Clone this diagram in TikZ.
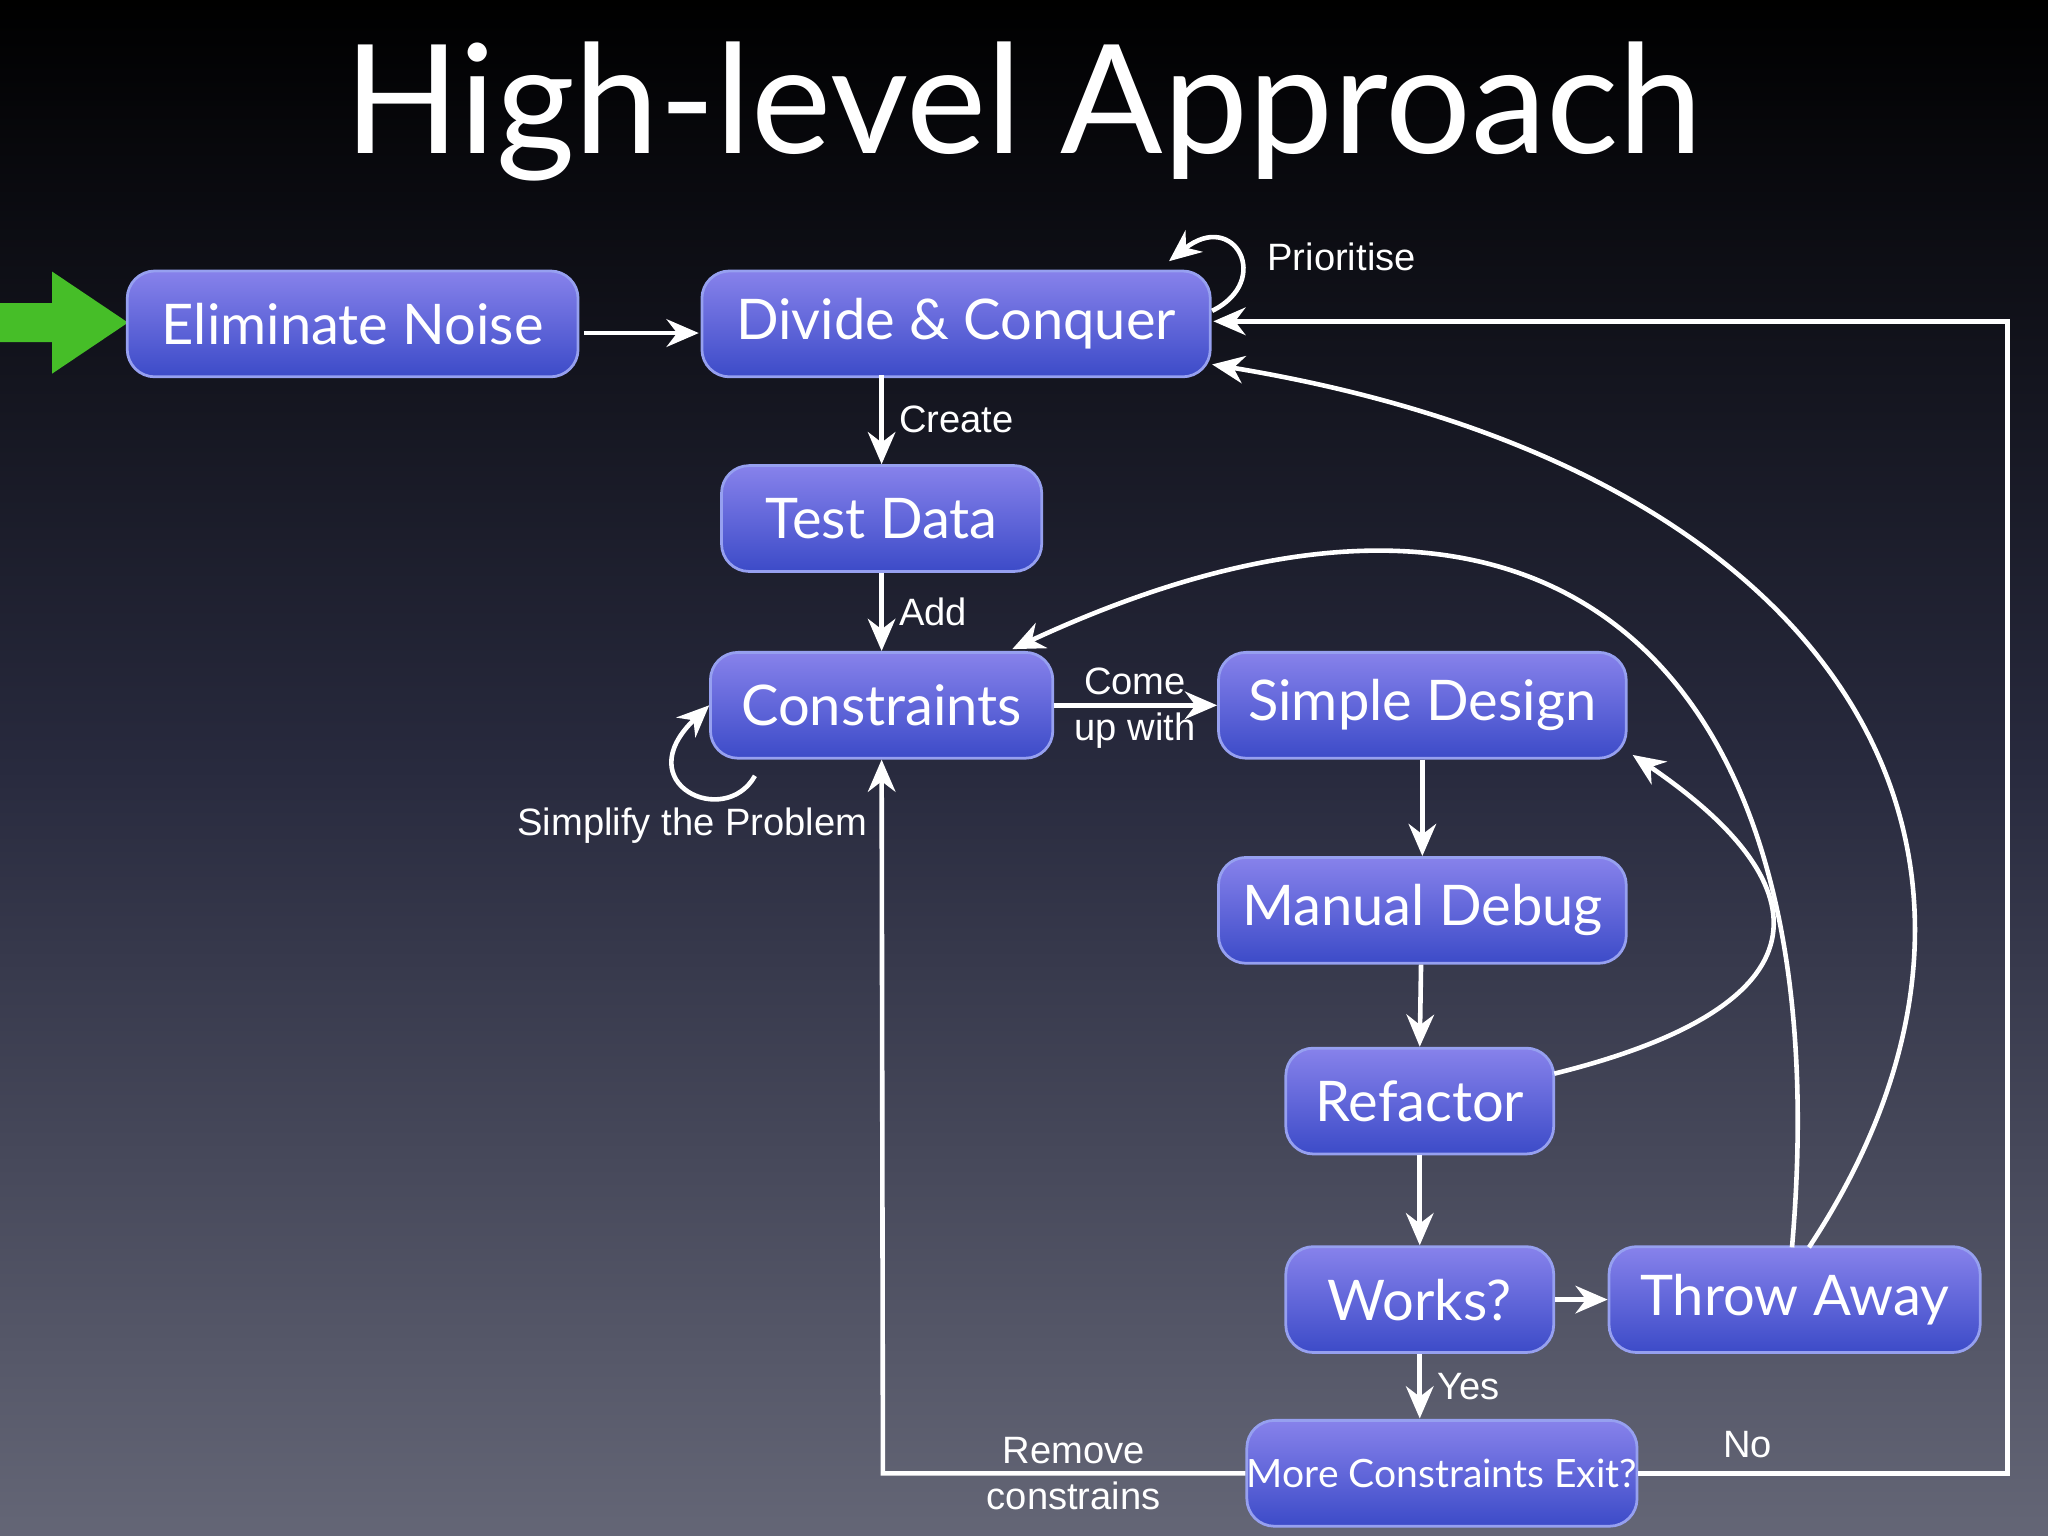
\documentclass[tikz,border=0pt]{standalone}
\usepackage{fontspec}
\setmainfont{Lato}
\newfontfamily\lbl{Liberation Sans}
\usetikzlibrary{arrows.meta}
\definecolor{btop}{RGB}{135,130,235}
\definecolor{bbot}{RGB}{60,75,200}
\definecolor{bedge}{RGB}{150,160,240}
\definecolor{gbot}{RGB}{100,102,118}
\definecolor{gmid}{RGB}{40,42,62}
\definecolor{grn}{RGB}{70,190,40}
\begin{document}
\begin{tikzpicture}[x=0.01cm,y=-0.01cm,
 box/.style={rounded corners=6pt,draw=bedge,line width=0.6pt,top color=btop,bottom color=bbot,text=white,minimum height=0.81cm,inner sep=0pt,font=\fontsize{12.2}{14}\selectfont},
 con/.style={draw=white,line width=1pt,-{Stealth[length=7pt,width=6pt]}},
 lab/.style={text=white,font=\lbl\fontsize{8.3}{10}\selectfont,align=center}]
\shade[top color=black,bottom color=gbot,middle color=gmid] (0,0) rectangle (1568,1176);
\useasboundingbox (0,0) rectangle (1568,1176);
\node[text=white,font=\fontsize{33}{38}\selectfont] (title) at (784,85) {High-level Approach};
\fill[grn] (0,232) -- (40,232) -- (40,208) -- (98,247) -- (40,286) -- (40,262) -- (0,262) -- cycle;
\node[box,minimum width=3.45cm] (en) at (270,248) {Eliminate Noise};
\node[box,minimum width=3.89cm] (dc) at (732,248) {Divide \& Conquer};
\node[box,minimum width=2.45cm] (td) at (675,397) {Test Data};
\node[box,minimum width=2.62cm] (cs) at (675,540) {Constraints};
\node[box,minimum width=3.12cm] (sd) at (1089,540) {Simple Design};
\node[box,minimum width=3.12cm] (md) at (1089,697) {Manual Debug};
\node[box,minimum width=2.05cm] (rf) at (1087,843) {Refactor};
\node[box,minimum width=2.05cm] (wk) at (1087,995) {Works?};
\node[box,minimum width=2.84cm] (ta) at (1374,995) {Throw Away};
\node[box,minimum width=2.85cm,font=\fontsize{8.5}{10}\selectfont] (mc) at (1104,1128) {More Constraints Exit?};
\coordinate (a1) at (447,255);
\coordinate (a2) at (535,255);
\draw[con] (a1) -- (a2);
\draw[con] (675,287) -- node[lab,right] {Create} (td.north);
\draw[con] (td.south) -- node[lab,right] {Add} (cs.north);
\draw[con] (cs.east) -- (sd.west);
\node[lab] at (869,542) {Come\\up with};
\draw[con] (sd.south) -- (md.north);
\draw[con] (md.south) ++(-1,0) -- (rf.north);
\draw[con] (rf.south) -- (wk.north);
\draw[con] (wk.south) -- node[lab,right] {Yes} (1087,1086);
\draw[con] (wk.east) -- (ta.west);
\draw[con] (mc.west) -- (676,1128) -- (cs.south);
\node[lab] at (822,1128) {Remove\\constrains};
\draw[con] (mc.east) -- (1537,1128) -- (1537,246) -- (929,246);
\node[lab] at (1338,1106) {No};
\draw[con] (1190,822) .. controls (1400,770) and (1400,680) .. (1250,578);
\draw[con] (1372,955) .. controls (1410,520) and (1200,300) .. (775,497);
\draw[con] (1385,955) .. controls (1580,660) and (1420,360) .. (928,279);
\draw[con] (928,238) .. controls (975,215) and (945,160) .. (895,200);
\node[lab,anchor=west] at (958,197) {Prioritise};
\draw[con] (578,594) .. controls (555,635) and (480,600) .. (543,540);
\node[lab] at (530,632) {Simplify the Problem};
\end{tikzpicture}
\end{document}
